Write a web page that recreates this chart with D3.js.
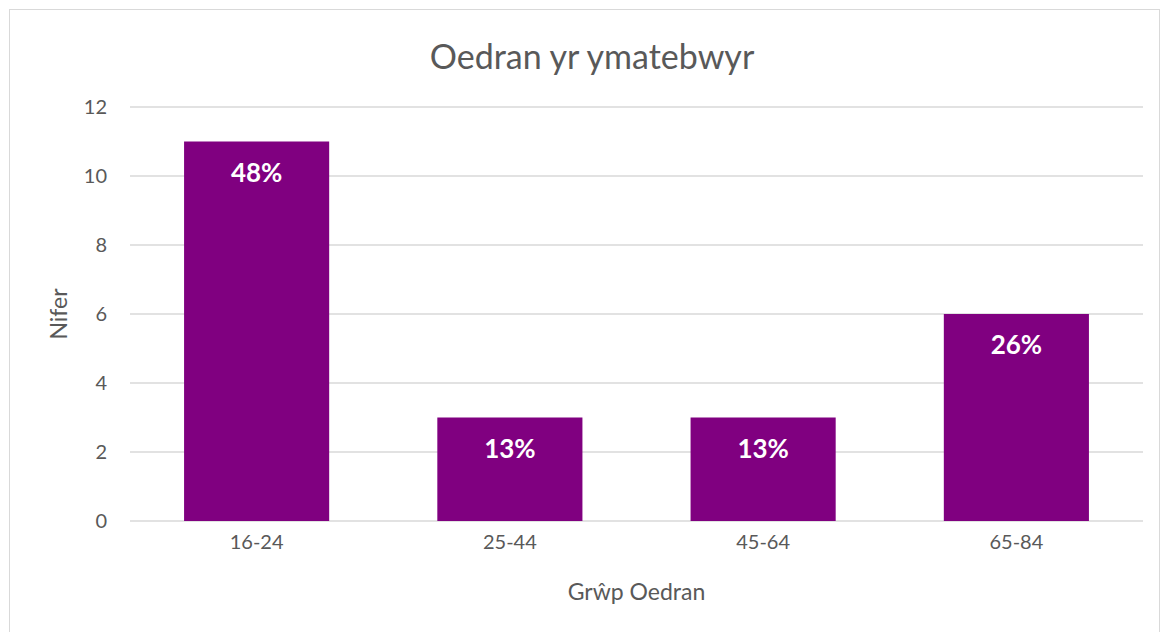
<!DOCTYPE html>
<html>
<head>
<meta charset="utf-8">
<script src="https://cdn.jsdelivr.net/npm/d3@7"></script>
<style>
  body { margin: 0; background: #fff; }
  text { font-family: Lato, "Open Sans", sans-serif; }
</style>
</head>
<body>
<svg id="chart" width="1168" height="632"></svg>
<script>
var categories = ['16-24', '25-44', '45-64', '65-84'];
var counts = [11, 3, 3, 6];
var percentLabels = ['48%', '13%', '13%', '26%'];
var yTicks = [0, 2, 4, 6, 8, 10, 12];

var svg = d3.select('#chart');
var plot = {left: 130, right: 1143, top: 107, bottom: 521};

// outer chart border
svg.append('rect')
    .attr('x', 9.5).attr('y', 9.5)
    .attr('width', 1150).attr('height', 640)
    .attr('fill', '#fff')
    .attr('stroke', '#d9d9d9');

var x = d3.scaleBand()
    .domain(categories)
    .range([plot.left, plot.right])
    .paddingInner(0.427)
    .paddingOuter(0.2135);

var y = d3.scaleLinear()
    .domain([0, 12])
    .range([plot.bottom, plot.top]);

// gridlines
svg.append('g')
    .selectAll('line')
    .data(yTicks)
    .join('line')
    .attr('x1', plot.left).attr('x2', plot.right)
    .attr('y1', function(d) { return y(d); })
    .attr('y2', function(d) { return y(d); })
    .attr('stroke', '#d9d9d9')
    .attr('stroke-width', 1.3);

// y axis labels
var yAxis = d3.axisLeft(y).tickValues(yTicks).tickSize(0).tickPadding(0);
svg.append('g')
    .attr('transform', 'translate(' + (plot.left - 23) + ',0)')
    .call(yAxis)
    .call(function(g) { g.select('.domain').remove(); })
    .selectAll('text')
    .attr('fill', '#595959')
    .style('font-family', 'Lato, sans-serif')
    .style('font-size', '20px');

// bars
svg.append('g')
    .selectAll('rect')
    .data(counts)
    .join('rect')
    .attr('x', function(d, i) { return x(categories[i]); })
    .attr('y', function(d) { return y(d); })
    .attr('width', x.bandwidth())
    .attr('height', function(d) { return y(0) - y(d); })
    .attr('fill', '#800080');

// data labels
svg.append('g')
    .selectAll('text')
    .data(counts)
    .join('text')
    .attr('x', function(d, i) { return x(categories[i]) + x.bandwidth() / 2; })
    .attr('y', function(d) { return y(d) + 40; })
    .attr('text-anchor', 'middle')
    .attr('fill', '#fff')
    .style('font-size', '26px')
    .style('font-weight', 'bold')
    .text(function(d, i) { return percentLabels[i]; });

// x axis labels
var xAxis = d3.axisBottom(x).tickSize(0).tickPadding(0);
svg.append('g')
    .attr('transform', 'translate(0,' + (plot.bottom + 14) + ')')
    .call(xAxis)
    .call(function(g) { g.select('.domain').remove(); })
    .selectAll('text')
    .attr('fill', '#595959')
    .style('font-family', 'Lato, sans-serif')
    .style('font-size', '20px');

// titles
svg.append('text')
    .attr('x', 592).attr('y', 69)
    .attr('text-anchor', 'middle')
    .attr('fill', '#595959')
    .style('font-size', '34px')
    .text('Oedran yr ymatebwyr');

svg.append('text')
    .attr('x', (plot.left + plot.right) / 2).attr('y', 600)
    .attr('text-anchor', 'middle')
    .attr('fill', '#595959')
    .style('font-size', '23px')
    .text('Grŵp Oedran');

svg.append('text')
    .attr('transform', 'translate(67,' + ((plot.top + plot.bottom) / 2) + ') rotate(-90)')
    .attr('text-anchor', 'middle')
    .attr('fill', '#595959')
    .style('font-size', '23px')
    .text('Nifer');
</script>
</body>
</html>
